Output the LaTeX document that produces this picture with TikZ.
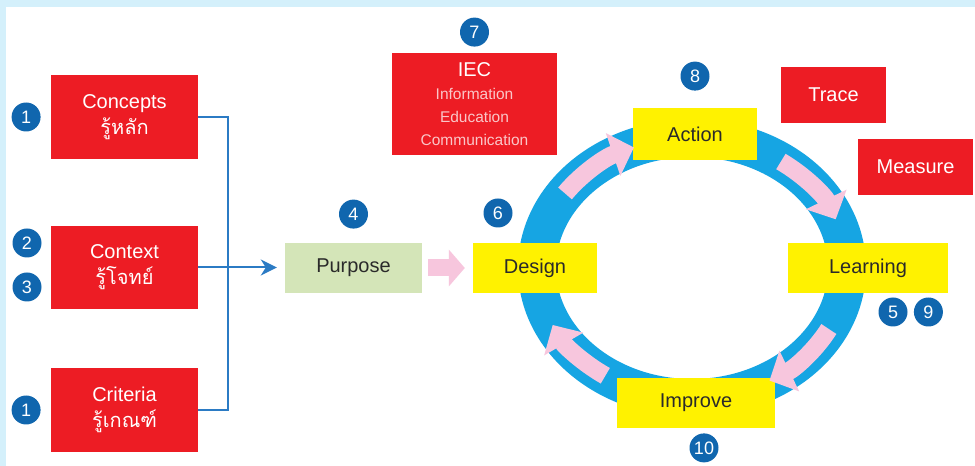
\documentclass[tikz,border=0pt]{standalone}
\usepackage{fontspec}
\setmainfont{Liberation Sans}
\newfontfamily\thaifont[Script=Thai]{Loma}
\usetikzlibrary{positioning,arrows.meta,calc}

\definecolor{cRed}{HTML}{ED1C24}
\definecolor{cYellow}{HTML}{FFF200}
\definecolor{cGreen}{HTML}{D4E5B8}
\definecolor{cRing}{HTML}{16A5E3}
\definecolor{cPink}{HTML}{F7C6DD}
\definecolor{cBadge}{HTML}{1066AE}
\definecolor{cLink}{HTML}{2B7BC4}
\definecolor{cBg}{HTML}{D4F0FB}
\definecolor{cText}{HTML}{2A2A2A}

\tikzset{
  box/.style={inner sep=0pt, align=center, font=\fontsize{20}{24}\selectfont},
  redbox/.style={box, fill=cRed, text=white},
  yellowbox/.style={box, fill=cYellow, text=cText, minimum height=50pt},
  badge/.style={circle, fill=cBadge, text=white, minimum size=29pt, inner sep=0pt, font=\fontsize{18}{18}\selectfont},
  link/.style={draw=cLink, line width=2pt},
  ringarrow/.style={draw=cPink, line width=18pt, -{Triangle[length=22pt,width=44pt]}}
}

\begin{document}
\begin{tikzpicture}[x=1pt,y=1pt]
\fill[cBg] (0,0) rectangle (975,466);
\fill[white] (6,0) rectangle (975,459);
\useasboundingbox (0,0) rectangle (975,466);

\coordinate (ring) at (692,198);
\draw[cRing, line width=38pt] (ring) ellipse [x radius=155pt, y radius=130pt];

\node (concepts) [redbox, minimum width=147pt, minimum height=84pt] at (124.5,349) {Concepts\\[2pt]{\thaifont รู้หลัก}};
\node (context) [redbox, minimum width=147pt, minimum height=83pt] at (124.5,198.5) {Context\\[2pt]{\thaifont รู้โจทย์}};
\node (criteria) [redbox, minimum width=147pt, minimum height=84pt] at (124.5,56) {Criteria\\[2pt]{\thaifont รู้เกณฑ์}};
\node (purpose) [box, fill=cGreen, text=cText, minimum width=137pt, minimum height=50pt] at (353.5,198) {Purpose};
\node (iec) [redbox, minimum width=165pt, minimum height=102pt, font=\fontsize{15.5}{23}\selectfont] at (474.5,362) {{\fontsize{20}{23}\selectfont IEC}\\\textcolor{white!75!cRed}{Information}\\\textcolor{white!75!cRed}{Education}\\\textcolor{white!75!cRed}{Communication}};
\node (design) [yellowbox, minimum width=124pt] at (535,198) {Design};
\node (action) [yellowbox, minimum width=124pt, minimum height=52pt] at (695,332) {Action};
\node (learning) [yellowbox, minimum width=160pt] at (868,198) {Learning};
\node (improve) [yellowbox, minimum width=158pt] at (696,63) {Improve};
\node (trace) [redbox, minimum width=105pt, minimum height=56pt] at (833.5,371) {Trace};
\node (measure) [redbox, minimum width=115pt, minimum height=56pt] at (915.5,299) {Measure};

\node (b1a) [badge, left=10pt of concepts] {1};
\node (b2) [badge] at (27,223) {2};
\node (b3) [badge] at (27,179) {3};
\node (b1b) [badge, left=10pt of criteria] {1};
\node (b4) [badge, above=14pt of purpose] {4};
\node (b6) [badge] at (498,253) {6};
\node (b7) [badge, above=6pt of iec] {7};
\node (b8) [badge, above=17pt of action] {8};
\node (b5) [badge] at (893,154) {5};
\node (b9) [badge, right=6pt of b5] {9};
\node (b10) [badge, below=5pt of improve, xshift=8pt] {10};

\coordinate (bus) at (228,198);
\draw[link] (concepts.east) -| (bus) |- (criteria.east);
\draw[link, -{Stealth[length=16pt,width=16pt,inset=5pt]}, shorten >=8pt] (context.east) -- (context.east -| purpose.west);
\draw[draw=cPink, line width=17pt, -{Triangle[length=16pt,width=36pt]}, shorten <=6pt, shorten >=8pt] (purpose.east) -- (design.west);

\draw[ringarrow] ($(ring)+(145:155pt and 130pt)$) arc [start angle=145, end angle=112, x radius=155pt, y radius=130pt];
\draw[ringarrow] ($(ring)+(55:155pt and 130pt)$) arc [start angle=55, end angle=22, x radius=155pt, y radius=130pt];
\draw[ringarrow] ($(ring)+(-28:155pt and 130pt)$) arc [start angle=-28, end angle=-60, x radius=155pt, y radius=130pt];
\draw[ringarrow] ($(ring)+(236:155pt and 130pt)$) arc [start angle=236, end angle=206, x radius=155pt, y radius=130pt];
\end{tikzpicture}
\end{document}
